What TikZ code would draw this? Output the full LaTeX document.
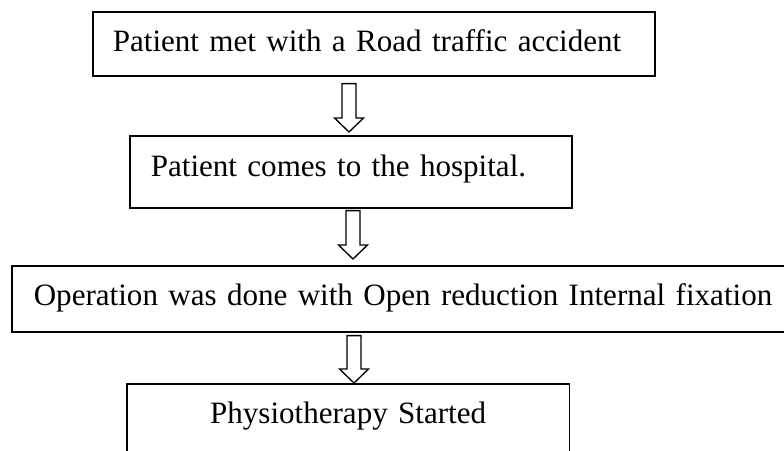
\documentclass[tikz,border=0pt]{standalone}
\usepackage{fontspec}
\setmainfont{Liberation Serif}
\usetikzlibrary{calc}
\newcommand{\hollowarrow}[5]{%
\draw[hollow] ($(#3,0 |- #1.south)+(-7,#4)$) -- ($(#3,0 |- #1.south)+(7,#4)$)
	-- ($(#3,0 |- #2.north)+(7,-#5-14)$) -- ++(7.5,0) -- ($(#3,0 |- #2.north)+(0,-#5)$)
	-- ($(#3,0 |- #2.north)+(-14.5,-#5-14)$) -- ++(7.5,0) -- cycle;}

\begin{document}
\begin{tikzpicture}[x=0.75pt,y=-0.75pt,
	every node/.style={draw=black,rectangle,line width=1.2pt,inner ysep=0pt,align=left,anchor=north west,font=\fontsize{23.3pt}{28pt}\selectfont},
	hollow/.style={draw=black,line width=1pt,fill=white,line join=miter}]
\useasboundingbox (0,0) rectangle (784,450);
\node[inner xsep=15pt,text width=391.5pt,text height=30pt,text depth=18pt] (accident) at (92,11) {\mbox{Patient met with a Road traffic accident}};
\node[inner xsep=15.75pt,text width=300pt,text height=30.75pt,text depth=23.25pt] (hospital) at (129,135) {\mbox{Patient comes to the hospital.}};
\node[inner xsep=16.5pt,text width=566pt,text height=30pt,text depth=19.5pt] (orif) at (11,265) {\mbox{Operation was done with Open reduction Internal fixation}};
\node[inner xsep=16pt,text width=300pt,align=center,text height=30pt,text depth=45pt] (physio) at (126,383) {\mbox{Physiotherapy Started}};
\hollowarrow{accident}{hospital}{349}{7}{3}
\hollowarrow{hospital}{orif}{353}{2}{6}
\hollowarrow{orif}{physio}{354}{3}{0}
\end{tikzpicture}
\end{document}
